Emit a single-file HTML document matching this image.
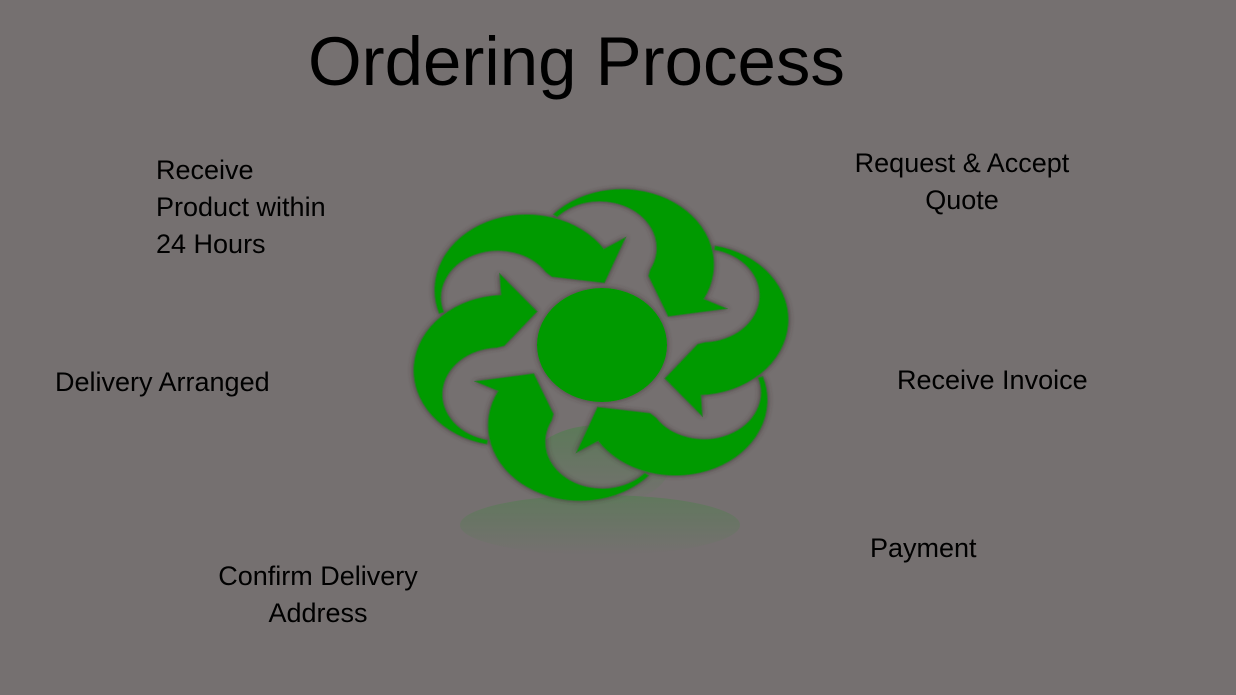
<!DOCTYPE html>
<html><head><meta charset="utf-8"><style>
body{margin:0;width:1236px;height:695px;background:#757070;overflow:hidden;position:relative;font-family:"Liberation Sans",sans-serif;color:#000}
.t{position:absolute;font-size:27px;line-height:37px;white-space:nowrap}
</style></head><body>
<div style="position:absolute;left:308px;top:22px;font-size:69px;line-height:80px;">Ordering Process</div>
<div class="t" style="left:156px;top:152px">Receive<br>Product within<br>24 Hours</div>
<div class="t" style="left:832px;top:145px;text-align:center;width:260px">Request &amp; Accept<br>Quote</div>
<div class="t" style="left:55px;top:364px">Delivery Arranged</div>
<div class="t" style="left:897px;top:362px">Receive Invoice</div>
<div class="t" style="left:870px;top:530px">Payment</div>
<div class="t" style="left:190px;top:558px;text-align:center;width:256px">Confirm Delivery<br>Address</div>
<svg width="1236" height="695" style="position:absolute;left:0;top:0">
<defs>
<filter id="sh" x="-20%" y="-20%" width="140%" height="140%"><feDropShadow dx="0" dy="0" stdDeviation="3" flood-color="#3a2f2f" flood-opacity="0.8"/></filter>
<linearGradient id="rf" x1="0" y1="0" x2="0" y2="1"><stop offset="0" stop-color="#2f8a2f" stop-opacity="0.6"/><stop offset="1" stop-color="#2f8a2f" stop-opacity="0"/></linearGradient>
<path id="ar" d="M-79.7,-146 A92,92 0 0 1 88.9,-76.2 L114,-69.5 L58.5,-48.1 L29,-92.2 L29.1,-100.2 A57,57 0 0 0 -75.4,-143.5 Z"/>
</defs>
<ellipse cx="600" cy="465" rx="70" ry="40" fill="url(#rf)" opacity="0.6"/>
<ellipse cx="600" cy="525" rx="140" ry="30" fill="url(#rf)" opacity="0.5"/>
<g transform="translate(601,345) scale(1.0,0.82)" fill="#009a00" stroke="#2d7a2d" stroke-width="1" filter="url(#sh)">
<use href="#ar" transform="rotate(-48)"/>
<use href="#ar" transform="rotate(12)"/>
<use href="#ar" transform="rotate(72)"/>
<use href="#ar" transform="rotate(132)"/>
<use href="#ar" transform="rotate(192)"/>
<use href="#ar" transform="rotate(252)"/>
</g>
<ellipse cx="602" cy="345" rx="65" ry="57" fill="#009a00" filter="url(#sh)"/>
</svg>
</body></html>
